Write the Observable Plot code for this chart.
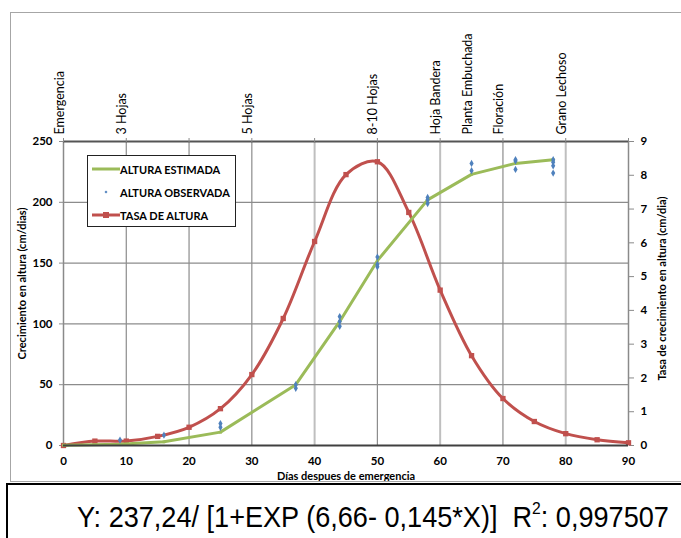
<!DOCTYPE html>
<html><head><meta charset="utf-8">
<script src="https://cdn.jsdelivr.net/npm/d3@7"></script>
<script src="https://cdn.jsdelivr.net/npm/@observablehq/plot@0.6"></script>
<style>
body{margin:0;background:#fff;}
#wrap{position:relative;width:681px;height:538px;overflow:hidden;font-family:Lato,"Open Sans",sans-serif;background:#fff;}
#chart{position:absolute;left:0;top:0;}
#frame{position:absolute;left:10px;top:12px;width:700px;height:468px;border:1.5px solid #a6a6a6;pointer-events:none;}
#legend{position:absolute;left:87px;top:155px;width:147px;height:70px;border:1px solid #222;background:#fff;font-weight:bold;font-size:11px;color:#000;}
#legend .row{position:absolute;left:3px;height:14px;display:flex;align-items:center;}
#legend .row svg{width:29px;height:14px;}
#legend .row span{margin-left:0px;white-space:nowrap;}
#formula{position:absolute;left:6px;top:483px;width:700px;height:60px;border:2px solid #000;}
#ftext{position:absolute;left:77px;top:502px;font-family:"Liberation Sans",Arial,sans-serif;font-size:30px;line-height:30px;white-space:nowrap;transform:scaleX(0.903);transform-origin:0 0;color:#000;}
#ftext sup{font-size:58%;vertical-align:0.75em;line-height:0;}
</style></head><body>
<div id="wrap">
  <div id="chart"></div>
  <div id="frame"></div>
  <div id="legend">
    <div class="row" style="top:6px"><svg><line x1="1" y1="7" x2="29" y2="7" stroke="#9BBB59" stroke-width="3"/></svg><span>ALTURA ESTIMADA</span></div>
    <div class="row" style="top:29px"><svg><path d="M15 5.5 L16.5 7 L15 8.5 L13.5 7 Z" fill="#4F81BD"/></svg><span>ALTURA OBSERVADA</span></div>
    <div class="row" style="top:52px"><svg><line x1="1" y1="7" x2="29" y2="7" stroke="#C0504D" stroke-width="3"/><rect x="12" y="4" width="6" height="6" fill="#C0504D"/></svg><span>TASA DE ALTURA</span></div>
  </div>
  <div id="formula"></div>
  <div id="ftext">Y: 237,24/ [1+EXP (6,66- 0,145*X)]&nbsp; R<sup>2</sup>: 0,997507</div>
</div>
<script>
// ---- data ----
const estDays = [0, 9, 16, 25, 37, 44, 50, 58, 65, 72, 78];
const estHeight = [0.3, 1, 3, 11, 50, 102, 152, 202, 223, 232, 235];

const obsDays = [9, 16, 25, 25, 37, 37, 44, 44, 44, 50, 50, 50, 58, 58, 58, 65, 65, 72, 72, 72, 78, 78, 78, 78];
const obsHeight = [4.5, 8.5, 15, 18, 47, 50, 98, 102, 106, 147, 149, 155, 199, 202, 204, 226, 232, 227, 234, 235, 224, 230, 233, 235];

const rateDays = [0, 5, 10, 15, 20, 25, 30, 35, 40, 45, 50, 55, 60, 65, 70, 75, 80, 85, 90];
const rateValues = [0, 0.13, 0.13, 0.27, 0.54, 1.09, 2.1, 3.76, 6.04, 8.02, 8.4, 6.9, 4.6, 2.66, 1.39, 0.71, 0.35, 0.17, 0.08];

const stageNames = ["Emergencia", "3 Hojas", "5 Hojas", "8-10 Hojas", "Hoja Bandera", "Planta Embuchada", "Floración", "Grano Lechoso"];
const stageDays = [0, 10, 30, 50, 60, 65, 70, 80];

const xTicks = [0, 10, 20, 30, 40, 50, 60, 70, 80, 90];
const leftTicks = [0, 50, 100, 150, 200, 250];
const rightTicks = [0, 1, 2, 3, 4, 5, 6, 7, 8, 9];
const darkGridX = [10, 20, 30, 50, 70];
const lightGridX = [40, 60, 80];
const gridY = [50, 100, 150, 200];

const leftTitle = "Crecimiento en altura (cm/dias)";
const rightTitle = "Tasa de crecimiento en altura (cm/dia)";
const bottomTitle = "Días despues de emergencia";

// ---- build ----
const LEFT_MAX = 250, RIGHT_MAX = 9;
const toLeft = v => v * LEFT_MAX / RIGHT_MAX;

const est = estDays.map((d, i) => ({x: d, y: estHeight[i]}));
const obs = obsDays.map((d, i) => ({x: d, y: obsHeight[i]}));
const rate = rateDays.map((d, i) => ({x: d, y: toLeft(rateValues[i])}));
const stages = stageDays.map((d, i) => ({x: d, name: stageNames[i]}));

const chart = Plot.plot({
  width: 681,
  height: 483,
  marginTop: 141,
  marginBottom: 38,
  marginLeft: 63,
  marginRight: 53,
  style: {fontFamily: "Lato, 'Open Sans', sans-serif", fontSize: "11px", fontWeight: "bold", color: "#000", background: "transparent"},
  x: {domain: [0, 90]},
  y: {domain: [0, 250]},
  marks: [
    Plot.ruleX(lightGridX, {stroke: "#bfbfbf", strokeWidth: 2}),
    Plot.ruleX(darkGridX, {stroke: "#8c8c8c", strokeWidth: 1.2}),
    Plot.ruleY(gridY, {stroke: "#8c8c8c", strokeWidth: 1.2}),
    Plot.ruleX([0], {stroke: "#8a8a8a", strokeWidth: 1.5}),
    Plot.ruleX([90], {stroke: "#8a8a8a", strokeWidth: 1.5}),
    Plot.ruleY([250], {stroke: "#555", strokeWidth: 2}),
    Plot.axisY({ticks: leftTicks, tickSize: 4, tickPadding: 7, label: null, stroke: "#8a8a8a", fontSize: 11.5, fontWeight: "bold"}),
    Plot.axisY({anchor: "right", ticks: rightTicks.map(toLeft), tickFormat: d => String(Math.round(d * RIGHT_MAX / LEFT_MAX)), tickSize: 5, tickPadding: 7, label: null, stroke: "#8a8a8a", fontSize: 11.5, fontWeight: "bold"}),
    Plot.axisX({ticks: xTicks, tickSize: 0, tickPadding: 11, label: null, fontSize: 11.5, fontWeight: "bold"}),
    Plot.axisX({anchor: "top", ticks: xTicks, tickSize: 4, tickFormat: () => "", label: null, stroke: "#8a8a8a"}),
    Plot.text(stages, {x: "x", y: () => 250, text: "name", rotate: -90, textAnchor: "start", lineAnchor: "bottom", dy: -7, fontWeight: "normal", fontSize: 12.5}),
    Plot.text([leftTitle], {text: d => d, frameAnchor: "left", textAnchor: "middle", rotate: -90, dx: -41, dy: -10, fontSize: 11}),
    Plot.text([rightTitle], {text: d => d, frameAnchor: "right", textAnchor: "middle", rotate: -90, dx: 34, dy: -5, fontSize: 11}),
    Plot.text([bottomTitle], {text: d => d, frameAnchor: "bottom", dy: 34, fontSize: 11}),
    Plot.line(rate, {x: "x", y: "y", stroke: "#C0504D", strokeWidth: 3, curve: "catmull-rom"}),
    Plot.dot(rate, {x: "x", y: "y", symbol: "square", r: 3, fill: "#C0504D"}),
    Plot.line(est, {x: "x", y: "y", stroke: "#9BBB59", strokeWidth: 3}),
    Plot.dot(est, {x: "x", y: "y", symbol: "square", r: 1.6, fill: "#9BBB59"}),
    Plot.dot(obs, {x: "x", y: "y", symbol: "diamond", r: 2.2, fill: "#4F81BD"}),
    Plot.ruleY([0], {stroke: "#404040", strokeWidth: 2})
  ]
});
document.getElementById("chart").appendChild(chart);
</script>
</body></html>
